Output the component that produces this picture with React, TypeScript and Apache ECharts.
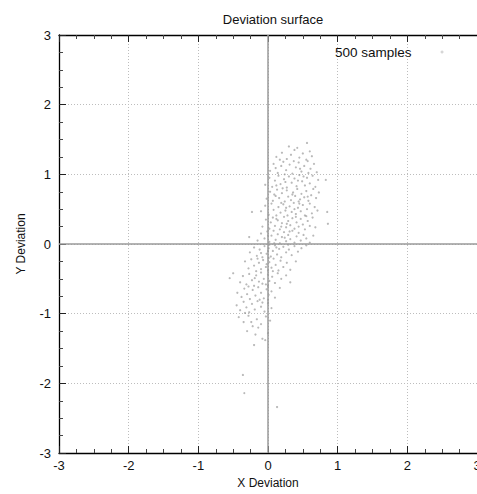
import React, { useEffect, useRef } from "react";
import * as echarts from "echarts";

const chartTitle = "Deviation surface";
const seriesName = "500 samples";
const xName = "X Deviation";
const yName = "Y Deviation";
const axisMin = -3;
const axisMax = 3;
const axisStep = 1;

// [x deviation, y deviation], band by band
const bandTop: [number, number][] = [
  [0.12, 1.25], [0.2, 1.31], [0.27, 1.22], [0.33, 1.28], [0.38, 1.35], [0.45, 1.24], [0.5, 1.3],
  [0.55, 1.21], [0.6, 1.33], [0.42, 1.38], [0.17, 1.21], [0.63, 1.26], [0.56, 1.45], [0.3, 1.4],
  [0.03, 1.05], [0.08, 1.15], [0.14, 1.02], [0.19, 1.12], [0.22, 1.18], [0.26, 1.06], [0.31, 1.14],
  [0.35, 1.01], [0.4, 1.1], [0.44, 1.17], [0.48, 1.04], [0.52, 1.12], [0.57, 1.19], [0.61, 1.08],
  [0.66, 1.15], [0.7, 1.03], [0.11, 1.09], [0.37, 1.19], [0.46, 1.08], [0.58, 1.02], [0.24, 1.0],
];
const bandUpper: [number, number][] = [
  [-0.04, 0.85], [0.02, 0.95], [0.06, 0.82], [0.1, 0.91], [0.15, 0.98], [0.18, 0.86], [0.23, 0.93],
  [0.27, 0.81], [0.3, 0.97], [0.34, 0.88], [0.38, 0.94], [0.41, 0.83], [0.45, 0.99], [0.49, 0.9],
  [0.53, 0.84], [0.56, 0.95], [0.6, 0.87], [0.64, 0.98], [0.68, 0.82], [0.72, 0.92], [0.83, 0.92],
  [0.25, 0.89], [0.43, 0.91], [0.51, 0.97], [0.12, 0.84],
  [-0.02, 0.65], [0.03, 0.75], [0.07, 0.62], [0.09, 0.71], [0.13, 0.78], [0.16, 0.66], [0.2, 0.73],
  [0.24, 0.61], [0.27, 0.77], [0.29, 0.68], [0.33, 0.63], [0.36, 0.74], [0.39, 0.69], [0.42, 0.79],
  [0.46, 0.64], [0.48, 0.72], [0.52, 0.67], [0.55, 0.76], [0.58, 0.62], [0.62, 0.7], [0.65, 0.79],
  [0.69, 0.66], [0.73, 0.74], [0.21, 0.8], [0.35, 0.71], [0.44, 0.61], [0.57, 0.68], [0.11, 0.69],
];
const bandMiddle: [number, number][] = [
  [-0.23, 0.46], [-0.1, 0.47], [-0.04, 0.55], [0.01, 0.42], [0.05, 0.58], [0.08, 0.49], [0.12, 0.41],
  [0.15, 0.53], [0.18, 0.45], [0.22, 0.57], [0.25, 0.48], [0.28, 0.41], [0.31, 0.54], [0.34, 0.46],
  [0.37, 0.59], [0.4, 0.43], [0.43, 0.52], [0.47, 0.47], [0.5, 0.56], [0.53, 0.41], [0.56, 0.5],
  [0.6, 0.58], [0.63, 0.44], [0.67, 0.53], [0.71, 0.48], [0.85, 0.46], [0.26, 0.52], [0.38, 0.5],
  [0.19, 0.59], [0.45, 0.58],
  [-0.08, 0.25], [-0.03, 0.35], [0.02, 0.22], [0.04, 0.31], [0.07, 0.38], [0.1, 0.26], [0.14, 0.34],
  [0.17, 0.21], [0.2, 0.3], [0.23, 0.39], [0.26, 0.24], [0.29, 0.33], [0.32, 0.27], [0.35, 0.37],
  [0.38, 0.22], [0.41, 0.31], [0.44, 0.25], [0.47, 0.36], [0.5, 0.28], [0.53, 0.21], [0.57, 0.33],
  [0.6, 0.26], [0.64, 0.38], [0.68, 0.24], [0.86, 0.29], [0.12, 0.36], [0.27, 0.29], [0.4, 0.39],
  [0.55, 0.4], [0.19, 0.25],
  [-0.27, 0.1], [-0.15, 0.05], [-0.1, 0.15], [-0.05, 0.08], [-0.01, 0.18], [0.02, 0.03], [0.05, 0.12],
  [0.08, 0.19], [0.11, 0.06], [0.14, 0.14], [0.17, 0.01], [0.2, 0.1], [0.23, 0.17], [0.26, 0.04],
  [0.29, 0.13], [0.32, 0.07], [0.35, 0.19], [0.38, 0.02], [0.41, 0.11], [0.44, 0.16], [0.47, 0.05],
  [0.51, 0.13], [0.55, 0.08], [0.6, 0.02], [0.65, 0.12], [0.0, 0.12], [0.09, 0.01], [0.24, 0.09],
  [0.31, 0.18], [0.02, -0.01],
];
const bandLower: [number, number][] = [
  [-0.26, -0.12], [-0.2, -0.05], [-0.16, -0.17], [-0.12, -0.08], [-0.08, -0.19], [-0.05, -0.03],
  [-0.02, -0.14], [0.01, -0.06], [0.04, -0.18], [0.07, -0.1], [0.1, -0.02], [0.13, -0.15], [0.16, -0.07],
  [0.19, -0.19], [0.22, -0.04], [0.26, -0.12], [0.3, -0.08], [0.34, -0.16], [0.38, -0.03], [0.43, -0.11],
  [0.48, -0.06], [0.55, -0.02], [0.0, -0.1], [-0.1, -0.13], [0.12, -0.05], [0.29, -0.01], [0.01, -0.2],
  [-0.5, -0.42], [-0.55, -0.49], [-0.33, -0.25], [-0.28, -0.35], [-0.24, -0.22], [-0.2, -0.31],
  [-0.17, -0.39], [-0.13, -0.27], [-0.1, -0.36], [-0.07, -0.23], [-0.03, -0.33], [0.0, -0.38],
  [0.02, -0.26], [0.05, -0.34], [0.08, -0.21], [0.11, -0.3], [0.15, -0.38], [0.18, -0.24], [0.22, -0.33],
  [0.27, -0.27], [0.32, -0.37], [0.4, -0.25], [-0.15, -0.21], [0.07, -0.39], [-0.02, -0.29],
  [-0.4, -0.55], [-0.36, -0.46], [-0.31, -0.58], [-0.27, -0.43], [-0.23, -0.52], [-0.2, -0.6],
  [-0.17, -0.45], [-0.13, -0.54], [-0.1, -0.41], [-0.06, -0.5], [-0.03, -0.58], [0.0, -0.44],
  [0.02, -0.53], [0.06, -0.47], [0.1, -0.56], [0.14, -0.42], [0.19, -0.5], [0.26, -0.45], [-0.19, -0.49],
  [0.0, -0.6], [-0.08, -0.57], [0.32, -0.55],
];
const bandBottom: [number, number][] = [
  [-0.44, -0.7], [-0.38, -0.76], [-0.34, -0.64], [-0.3, -0.72], [-0.26, -0.79], [-0.22, -0.66],
  [-0.18, -0.74], [-0.14, -0.62], [-0.1, -0.7], [-0.06, -0.78], [-0.02, -0.65], [0.01, -0.73],
  [0.05, -0.68], [0.1, -0.77], [0.17, -0.63], [-0.28, -0.61], [-0.12, -0.8], [0.0, -0.8],
  [-0.45, -0.88], [-0.4, -0.95], [-0.35, -0.83], [-0.31, -0.91], [-0.27, -0.98], [-0.23, -0.86],
  [-0.19, -0.94], [-0.15, -0.82], [-0.1, -0.9], [-0.05, -0.97], [0.0, -0.85], [0.05, -0.92],
  [-0.33, -0.99], [-0.08, -0.84],
  [-0.42, -1.05], [-0.35, -1.12], [-0.28, -1.03], [-0.22, -1.18], [-0.16, -1.08], [-0.1, -1.15],
  [-0.03, -1.04], [0.03, -1.1], [-0.24, -1.12], [-0.14, -1.2],
  [-0.3, -1.25], [-0.18, -1.3], [-0.08, -1.36], [0.0, -1.28], [-0.04, -1.38], [-0.2, -1.45],
  [-0.36, -1.88], [-0.34, -2.14], [0.13, -2.34],
];

const samples = [...bandTop, ...bandUpper, ...bandMiddle, ...bandLower, ...bandBottom];

const FONT = "Liberation Sans, Arial, Helvetica, sans-serif";

export default function App() {
  const ref = useRef<HTMLDivElement>(null);
  useEffect(() => {
    if (!ref.current) return;
    const chart = echarts.init(ref.current, undefined, { renderer: "svg" });
    const axisCommon = {
      type: "value" as const,
      min: axisMin,
      max: axisMax,
      interval: axisStep,
      axisLine: { show: true, onZero: false, lineStyle: { color: "#000", width: 1.3 } },
      axisTick: { show: true, inside: true, length: 7, lineStyle: { color: "#222" } },
      minorTick: { show: true, splitNumber: 4, length: 4, lineStyle: { color: "#444" } },
      axisLabel: { color: "#111", fontSize: 13, fontFamily: FONT, margin: 8, hideOverlap: false },
      splitLine: { show: true, lineStyle: { color: "#bdbdbd", type: [1, 2] as any, width: 1 } },
      nameTextStyle: { color: "#111", fontSize: 12, fontFamily: FONT },
    };
    chart.setOption({
      animation: false,
      backgroundColor: "#fff",
      title: {
        text: chartTitle,
        left: 268,
        top: 8,
        textAlign: "center",
        textStyle: { fontSize: 13, fontWeight: "normal", color: "#111", fontFamily: FONT },
      },
      legend: {
        show: true,
        left: 330,
        top: 40,
        align: "right",
        icon: "circle",
        itemWidth: 3,
        itemHeight: 3,
        itemStyle: { color: "#bbb" },
        textStyle: { fontSize: 13.5, color: "#111", fontFamily: FONT, padding: [0, 24, 0, 0] },
        data: [seriesName],
      },
      grid: {
        left: 59,
        top: 35,
        right: 0,
        bottom: 41,
        containLabel: false,
        outerBoundsMode: "none",
      },
      xAxis: [
        {
          ...axisCommon,
          position: "bottom",
          name: xName,
          nameLocation: "middle",
          nameGap: 24,
          axisLabel: { ...axisCommon.axisLabel, margin: 6 },
        },
        {
          ...axisCommon,
          position: "top",
          axisLabel: { show: false },
          splitLine: { show: false },
        },
      ],
      yAxis: {
        ...axisCommon,
        position: "left",
        name: yName,
        nameLocation: "middle",
        nameGap: 32,
      },
      series: [
        {
          name: seriesName,
          type: "scatter",
          xAxisIndex: 0,
          data: samples,
          symbol: "circle",
          symbolSize: 2.2,
          itemStyle: { color: "#8a8a8a", opacity: 0.6 },
          silent: true,
          markLine: {
            silent: true,
            symbol: "none",
            label: { show: false },
            lineStyle: { color: "#9a9a9a", type: "solid", width: 1.5, opacity: 1 },
            data: [{ xAxis: 0 }, { yAxis: 0 }],
          },
        },
      ],
    });
    return () => chart.dispose();
  }, []);
  return (
    <div
      ref={ref}
      style={{ position: "fixed", left: 0, top: 0, width: 477, height: 494, background: "#fff" }}
    />
  );
}
